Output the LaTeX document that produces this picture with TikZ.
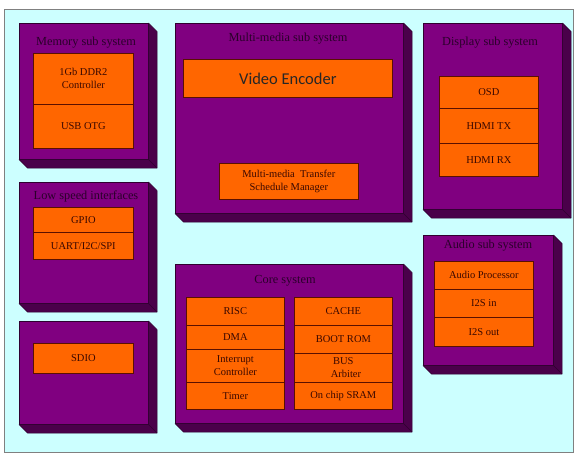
\documentclass[tikz,border=0pt]{standalone}
\usepackage{fontspec}
\setmainfont{Liberation Serif}
\newfontfamily\calib{Carlito}
\definecolor{bgc}{HTML}{CCFFFF}
\definecolor{purp}{HTML}{800080}
\definecolor{purpdark}{HTML}{4A004A}
\definecolor{edgec}{HTML}{300030}
\definecolor{orng}{HTML}{FF6600}
\definecolor{cellline}{HTML}{5A1000}
\definecolor{celltext}{HTML}{3A0800}
\definecolor{titletext}{HTML}{2A002A}
\newcommand\threeD[1]{%
  \filldraw[fill=purpdark,draw=edgec,line width=0.5pt,line join=round]
    (#1.north east) -- ([shift={(8.5,8.5)}]#1.north east)
    -- ([shift={(8.5,8.5)}]#1.south east) -- ([shift={(8.5,8.5)}]#1.south west)
    -- (#1.south west) -- (#1.south east) -- cycle;
  \draw[edgec,line width=0.5pt] (#1.south east) -- ([shift={(8.5,8.5)}]#1.south east);}
\begin{document}
\begin{tikzpicture}[x=1pt,y=-1pt,
  block/.style={fill=purp,draw=edgec,line width=0.5pt,inner sep=0pt,anchor=north west},
  cell/.style={fill=orng,draw=cellline,line width=0.7pt,inner sep=0pt,anchor=north west,
    align=center,text=celltext,font=\fontsize{10.5}{13}\selectfont},
  title/.style={text=titletext,font=\fontsize{12.3}{14}\selectfont,inner sep=0pt}]
\useasboundingbox (0,0) rectangle (577,459);
\node[fill=bgc,draw=gray,line width=0.7pt,anchor=north west,inner sep=0pt,
  minimum width=569pt,minimum height=443pt] (frame) at (4,9) {};
% Memory
\node[block,minimum width=129pt,minimum height=136pt] (mem) at (19,23) {};
\threeD{mem}
\node[title] (memt) at (86,43) {Memory sub system};
\node[cell,minimum width=100pt,minimum height=51pt] (ddr) at (33,53) {1Gb DDR2\\Controller};
\node[cell,minimum width=100pt,minimum height=44pt] (usb) at (33,104) {USB OTG};
% Multimedia
\node[block,minimum width=228pt,minimum height=190pt] (mm) at (175,23) {};
\threeD{mm}
\node[title] (mmt) at (288,39) {Multi-media sub system};
\node[cell,minimum width=209pt,minimum height=38pt,font=\calib\fontsize{16.5}{18}\selectfont,text=black!85] (ve) at (183,59) {Video Encoder};
\node[cell,minimum width=139pt,minimum height=36pt] (mtsm) at (219,163) {Multi-media\ \ Transfer\\Schedule Manager};
% Display
\node[block,minimum width=139pt,minimum height=186pt] (disp) at (423,23) {};
\threeD{disp}
\node[title] (dispt) at (490,43) {Display sub system};
\node[cell,minimum width=99pt,minimum height=32pt] (osd) at (439,76) {OSD};
\node[cell,minimum width=99pt,minimum height=35pt] (htx) at (439,108) {HDMI TX};
\node[cell,minimum width=99pt,minimum height=33pt] (hrx) at (439,143) {HDMI RX};
% Low speed
\node[block,minimum width=129pt,minimum height=121pt] (low) at (19,182) {};
\threeD{low}
\node[title] (lowt) at (86,196) {Low speed interfaces};
\node[cell,minimum width=100pt,minimum height=25pt] (gpio) at (33,207) {GPIO};
\node[cell,minimum width=100pt,minimum height=27pt] (uart) at (33,232) {UART/I2C/SPI};
% SDIO
\node[block,minimum width=129pt,minimum height=103pt] (sdb) at (19,321) {};
\threeD{sdb}
\node[cell,minimum width=100pt,minimum height=30pt] (sdio) at (33,343) {SDIO};
% Core
\node[block,minimum width=228pt,minimum height=159pt] (core) at (175,264) {};
\threeD{core}
\node[title] (coret) at (285,281) {Core system};
\node[cell,minimum width=98pt,minimum height=28pt] (risc) at (186,297) {RISC};
\node[cell,minimum width=98pt,minimum height=24pt] (dma) at (186,325) {DMA};
\node[cell,minimum width=98pt,minimum height=33pt] (intc) at (186,349) {Interrupt\\Controller};
\node[cell,minimum width=98pt,minimum height=27pt] (timer) at (186,382) {Timer};
\node[cell,minimum width=98pt,minimum height=28pt] (cache) at (294,297) {CACHE};
\node[cell,minimum width=98pt,minimum height=28pt] (boot) at (294,325) {BOOT ROM};
\node[cell,minimum width=98pt,minimum height=29pt] (bus) at (294,353) {BUS\\\ \ Arbiter};
\node[cell,minimum width=98pt,minimum height=27pt] (sram) at (294,382) {On chip SRAM};
% Audio
\node[block,minimum width=130pt,minimum height=130pt] (aud) at (423,235) {};
\threeD{aud}
\node[title] (audt) at (488,246) {Audio sub system};
\node[cell,minimum width=99pt,minimum height=28pt] (ap) at (434,261) {Audio Processor};
\node[cell,minimum width=99pt,minimum height=28pt] (i2si) at (434,289) {I2S in};
\node[cell,minimum width=99pt,minimum height=29pt] (i2so) at (434,317) {I2S out};
\end{tikzpicture}
\end{document}
